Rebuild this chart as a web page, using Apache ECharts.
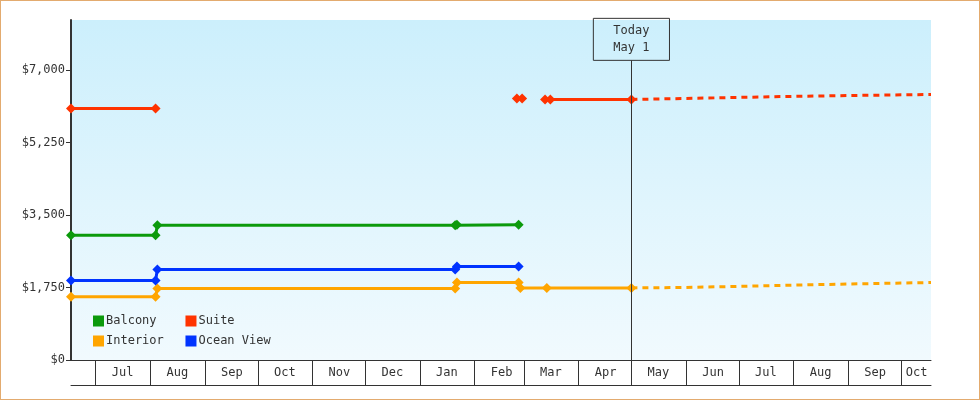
<!DOCTYPE html>
<html><head><meta charset="utf-8">
<script src="https://cdn.jsdelivr.net/npm/echarts@6/dist/echarts.min.js"></script>
<style>html,body{margin:0;padding:0;background:#fff}#c{width:978px;height:398px;border:1px solid #e3ab6f}</style>
</head><body><div id="c"></div>
<script>
const monthNames = ['Jan','Feb','Mar','Apr','May','Jun','Jul','Aug','Sep','Oct','Nov','Dec'];
const yTicks = [0, 1750, 3500, 5250, 7000];
const today = '2023-05-01';
const balcony = [['2022-06-17',3014],['2022-08-04',3014],['2022-08-05',3257],['2023-01-21',3257],['2023-01-22',3265],['2023-02-26',3265]];
const oceanView = [['2022-06-17',1920],['2022-08-04',1920],['2022-08-05',2187],['2023-01-21',2187],['2023-01-22',2260],['2023-02-26',2260]];
const interior = [['2022-06-17',1531],['2022-08-04',1531],['2022-08-05',1725],['2023-01-21',1725],['2023-01-22',1871],['2023-02-26',1871],['2023-02-27',1742],['2023-03-14',1742],['2023-05-01',1742]];
const interiorForecast = [['2023-05-01',1742],['2023-06-01',1752],['2023-07-01',1780],['2023-08-01',1810],['2023-09-01',1835],['2023-10-01',1860],['2023-10-18',1871]];
const suite = [['2022-06-17',6076],['2022-08-04',6076],['2022-08-05','-'],['2023-02-25',6320],['2023-02-26','-'],['2023-02-28',6320],['2023-03-01','-'],['2023-03-13',6295],['2023-03-14','-'],['2023-03-16',6295],['2023-05-01',6295]];
const suiteForecast = [['2023-05-01',6295],['2023-06-01',6320],['2023-07-01',6345],['2023-08-01',6370],['2023-09-01',6390],['2023-10-18',6416]];
const colors = {Balcony:'#0c9a0c', Suite:'#ff3300', Interior:'#ffa500', 'Ocean View':'#0033ff'};

const font = 'DejaVu Sans Mono';
const chart = echarts.init(document.getElementById('c'));
function solid(name, data){
  return {name, type:'line', data, color:colors[name], symbol:'diamond', symbolSize:10,
    lineStyle:{width:3}, connectNulls:false, animation:false, z:3};
}
function dashed(name, data){
  return {name, type:'line', data, color:colors[name], symbol:'none',
    lineStyle:{width:3, type:[6,5]}, animation:false, z:2};
}
const legendBase = {orient:'horizontal', left:87, itemWidth:11, itemHeight:11, icon:'rect', itemGap:0,
  formatter:function(n){return n.padEnd(11,' ');},
  textStyle:{fontFamily:font, fontSize:12, color:'#333', padding:[0,0,0,-3]}};
const marker = solid('Balcony', balcony);
marker.markLine = {symbol:'none', silent:true, animation:false,
  lineStyle:{color:'#333', width:1, type:'solid'},
  label:{show:true, position:'end', formatter:'Today\nMay 1', fontFamily:font, fontSize:12, color:'#333',
    borderColor:'#333', borderWidth:1, padding:[4,20,4,20], lineHeight:17, distance:0},
  data:[[{coord:[today,0]},{coord:[today,7240]}]]};
chart.setOption({
  animation:false,
  legend:[
    Object.assign({}, legendBase, {top:309, data:['Balcony','Suite']}),
    Object.assign({}, legendBase, {top:329, data:['Interior','Ocean View']})
  ],
  grid:{left:70, right:48, top:19, bottom:39,
    show:true, borderWidth:0,
    backgroundColor:new echarts.graphic.LinearGradient(0,0,0,1,[{offset:0,color:'#cceffc'},{offset:1,color:'#f1fafe'}])},
  xAxis:[{type:'time', min:'2022-06-17', max:'2023-10-18',
    minInterval:28*864e5, maxInterval:31*864e5, splitNumber:16,
    axisLine:{lineStyle:{color:'#333', width:1}},
    axisTick:{show:true, length:25, lineStyle:{color:'#333'}},
    splitLine:{show:false},
    axisLabel:{interval:0, hideOverlap:false, showMinLabel:false, showMaxLabel:false, align:'left', margin:0,
      formatter:function(v){const d=new Date(v); const m=monthNames[d.getMonth()];
        return (d.getMonth()===9 && d.getFullYear()===2023) ? '{b|'+m+'}' : '{a|'+m+'}';},
      rich:{a:{width:54, height:25, lineHeight:25, align:'center', fontFamily:font, fontSize:12, color:'#333'},
            b:{width:31, height:25, lineHeight:25, align:'center', fontFamily:font, fontSize:12, color:'#333'}}}},
   {type:'value', position:'bottom', offset:25, min:0, max:1,
    axisLine:{show:true, lineStyle:{color:'#333'}}, axisTick:{show:false}, axisLabel:{show:false}, splitLine:{show:false}}],
  yAxis:{type:'value', min:0, max:8215, interval:1750,
    axisLine:{show:true, lineStyle:{color:'#333', width:2}},
    axisTick:{show:true, length:5, lineStyle:{color:'#333'}},
    splitLine:{show:false},
    axisLabel:{showMaxLabel:false, fontFamily:font, fontSize:12, color:'#333', margin:6,
      formatter:function(v){return yTicks.indexOf(v)>=0 ? '$'+v.toLocaleString('en-US') : '';}}},
  series:[
    marker,
    solid('Suite', suite),
    solid('Interior', interior),
    solid('Ocean View', oceanView),
    dashed('Suite', suiteForecast),
    dashed('Interior', interiorForecast)
  ]
});
</script></body></html>
